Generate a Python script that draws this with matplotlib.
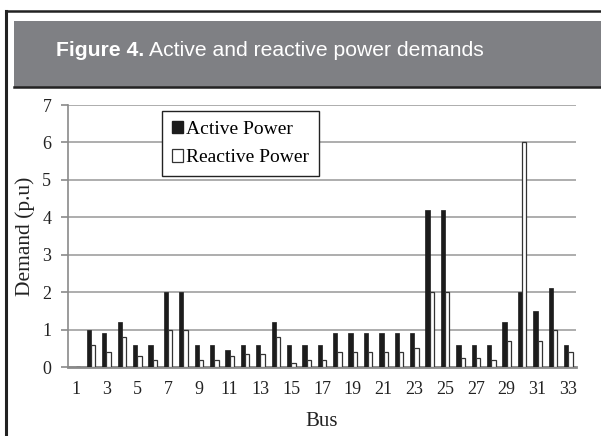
import matplotlib
matplotlib.use("Agg")
import matplotlib.pyplot as plt
import numpy as np
from matplotlib.lines import Line2D
from matplotlib.patches import Rectangle, Patch

buses = list(range(1, 34))
active = [0, 1.0, 0.9, 1.2, 0.6, 0.6, 2.0, 2.0, 0.6, 0.6, 0.45, 0.6, 0.6, 1.2, 0.6, 0.6,
          0.6, 0.9, 0.9, 0.9, 0.9, 0.9, 0.9, 4.2, 4.2, 0.6, 0.6, 0.6, 1.2, 2.0, 1.5, 2.1, 0.6]
reactive = [0, 0.6, 0.4, 0.8, 0.3, 0.2, 1.0, 1.0, 0.2, 0.2, 0.3, 0.35, 0.35, 0.8, 0.1, 0.2,
            0.2, 0.4, 0.4, 0.4, 0.4, 0.4, 0.5, 2.0, 2.0, 0.25, 0.25, 0.2, 0.7, 6.0, 0.7, 1.0, 0.4]
xtick_labels = [str(b) for b in range(1, 34, 2)]
yticks = list(range(0, 8))

W, H = 601, 436
fig = plt.figure(figsize=(W / 100, H / 100), dpi=100)
fig.patch.set_facecolor("white")

serif = ["Liberation Serif", "DejaVu Serif"]
sans = ["Liberation Sans", "DejaVu Sans"]

# Header band
fig.patches.append(Rectangle((14 / W, 1 - 88 / H), 1 - 14 / W, 67 / H, transform=fig.transFigure,
                             facecolor="#7f8084", edgecolor="none", zorder=0))
fig.lines.append(Line2D([14 / W, 1], [1 - 87.5 / H, 1 - 87.5 / H], transform=fig.transFigure,
                        color="#222222", lw=1.8))
# Outer frame
fig.lines.append(Line2D([6 / W, 1], [1 - 11 / H, 1 - 11 / H], transform=fig.transFigure,
                        color="#222222", lw=1.8))
fig.lines.append(Line2D([6 / W, 6 / W], [0, 1 - 11 / H], transform=fig.transFigure,
                        color="#222222", lw=2.2))

t1 = fig.text(56 / W, 1 - 50 / H, "Figure 4.", color="white", fontsize=15.2,
              fontweight="bold", family=sans, va="center", ha="left")
fig.canvas.draw()
bb = t1.get_window_extent()
fig.text(bb.x1 / W + 5 / W, 1 - 50 / H, "Active and reactive power demands", color="white",
         fontsize=15.2, family=sans, va="center", ha="left")

ax = fig.add_axes([68 / W, 1 - 367 / H, 508 / W, 262 / H])
x = np.array(buses, dtype=float)
bw = 0.28
ax.bar(x - bw / 2, active, width=bw, color="#1c1c1c", edgecolor="#1c1c1c", lw=0.5, zorder=3)
ax.bar(x + bw / 2, reactive, width=bw, color="white", edgecolor="#333333", lw=0.9, zorder=3)

ax.set_xlim(0.5, 33.5)
ax.set_ylim(0, 7)
ax.set_yticks(yticks)
ax.set_xticks(list(range(1, 34, 2)))
ax.set_xticklabels(xtick_labels)
ax.yaxis.grid(True, color="#a0a0a0", lw=1.2, zorder=0)
ax.set_axisbelow(True)
for s in ["top", "right"]:
    ax.spines[s].set_visible(False)
ax.spines["left"].set_color("#8a8a8a")
ax.spines["left"].set_linewidth(1.2)
ax.spines["bottom"].set_color("#8a8a8a")
ax.spines["bottom"].set_linewidth(2.0)
ax.tick_params(axis="y", direction="out", length=5, width=1.2, color="#8a8a8a", pad=7,
               labelsize=13, labelcolor="#222222")
ax.tick_params(axis="x", length=0, pad=10, labelsize=13, labelcolor="#222222")
for lab in ax.get_xticklabels() + ax.get_yticklabels():
    lab.set_family(serif)

ax.set_xlabel("Bus", fontsize=15, family=serif, color="#222222", labelpad=10)
ax.set_ylabel("Demand (p.u)", fontsize=15.5, family=serif, color="#222222")
ax.yaxis.set_label_coords(-(68 - 35) / 508, 0.5)

handles = [Patch(facecolor="#1c1c1c", edgecolor="#1c1c1c"),
           Patch(facecolor="white", edgecolor="#333333", lw=0.9)]
leg = ax.legend(handles, ["Active Power", "Reactive Power"], loc="upper left",
                bbox_to_anchor=(0.185, 0.977), borderaxespad=0, fancybox=False,
                framealpha=1, edgecolor="#222222", prop={"family": serif, "size": 14},
                handlelength=0.6, handleheight=0.6, handletextpad=0.15,
                labelspacing=0.6, borderpad=0.5)
leg.get_frame().set_linewidth(1.0)

fig.savefig("out.png", dpi=100, facecolor="white")
